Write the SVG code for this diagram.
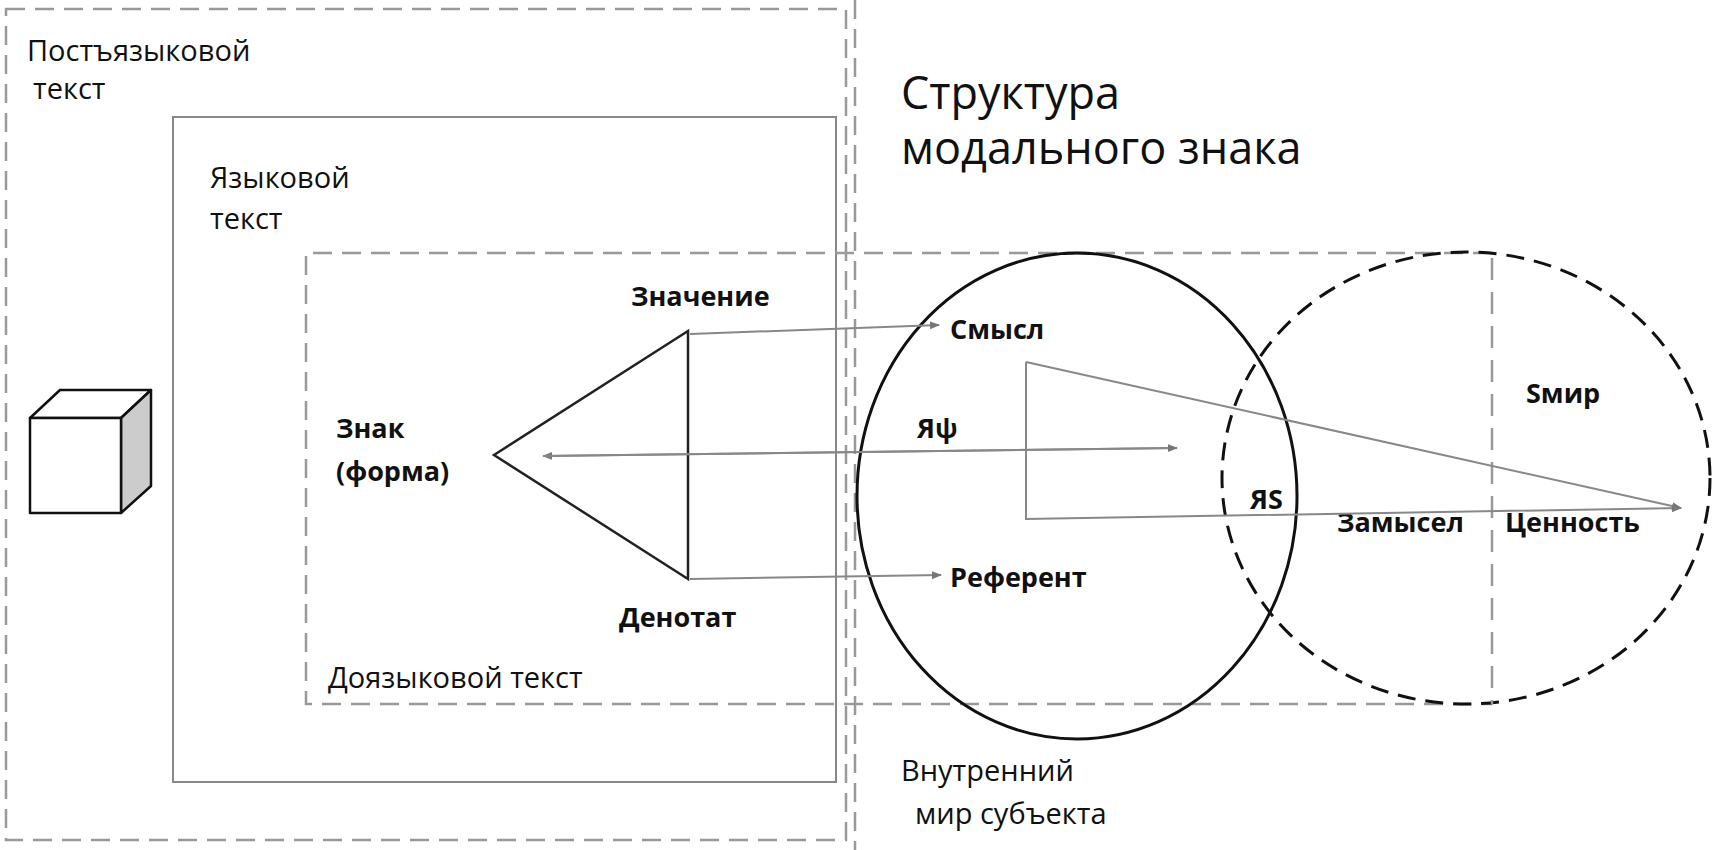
<svg xmlns="http://www.w3.org/2000/svg" width="1712" height="850" viewBox="0 0 1712 850">
<style>
.gd{fill:none;stroke:#999;stroke-width:2.5;stroke-dasharray:19 10}
.t{font-family:"Open Sans","Liberation Sans",sans-serif;fill:#111;font-size:29px}
.b{font-family:"Open Sans","Liberation Sans",sans-serif;fill:#111;font-size:27px;font-weight:bold}
.ttl{font-family:"Open Sans","Liberation Sans",sans-serif;fill:#111;font-size:45px}
.ar{fill:none;stroke:#888;stroke-width:2}
</style>
<defs>
<marker id="ah" markerWidth="10" markerHeight="10" refX="9" refY="5" orient="auto" markerUnits="userSpaceOnUse">
<path d="M0,1 L10,5 L0,9 z" fill="#777"/>
</marker>
</defs>
<rect width="1712" height="850" fill="#fff"/>
<g id="postlang">
<rect class="gd" x="6" y="9" width="840" height="831"/>
<text class="t" x="27" y="61">Постъязыковой</text>
<text class="t" x="33" y="99">текст</text>
</g>
<g id="inner-world">
<line class="gd" x1="855" y1="0" x2="855" y2="850"/>
<text class="t" x="901" y="781">Внутренний</text>
<text class="t" x="915" y="824">мир субъекта</text>
</g>
<g id="lang">
<rect x="173" y="117" width="663" height="665" fill="none" stroke="#888" stroke-width="2"/>
<text class="t" x="210" y="188">Языковой</text>
<text class="t" x="210" y="229">текст</text>
</g>
<g id="prelang">
<path class="gd" d="M1492,253 H306 V704 H1492"/>
<text class="t" x="328" y="688">Доязыковой текст</text>
</g>
<g id="title">
<text class="ttl" x="901" y="109">Структура</text>
<text class="ttl" x="901" y="164">модального знака</text>
</g>
<g id="cube" stroke="#111" stroke-width="2.5" stroke-linejoin="round">
<path d="M30,418 L60,390 L151,390 L121,418 Z" fill="#fff"/>
<path d="M121,418 L151,390 L151,486 L121,513 Z" fill="#ccc"/>
<rect x="30" y="418" width="91" height="95" fill="#fff"/>
</g>
<g id="triangle">
<path d="M494,455 L688,331 L688,579 Z" fill="none" stroke="#222" stroke-width="2.5" stroke-linejoin="miter"/>
<text class="b" x="631" y="306">Значение</text>
<text class="b" x="336" y="438">Знак</text>
<text class="b" x="336" y="481">(форма)</text>
<text class="b" x="619" y="627">Денотат</text>
</g>
<g id="circle-subject">
<ellipse cx="1077" cy="496" rx="220" ry="243" fill="none" stroke="#111" stroke-width="3"/>
<text class="b" x="950" y="339">Смысл</text>
<text class="b" x="917" y="438">Яψ</text>
<text class="b" x="950" y="587">Референт</text>
<text class="b" x="1250" y="509">ЯS</text>
</g>
<g id="circle-world">
<ellipse cx="1466" cy="478" rx="244" ry="226" fill="none" stroke="#111" stroke-width="3" stroke-dasharray="18 10"/>
<line x1="1492" y1="258" x2="1492" y2="704" fill="none" stroke="#999" stroke-width="2.5" stroke-dasharray="22 12"/>
<text class="b" x="1526" y="403">Sмир</text>
<text class="b" x="1337" y="532">Замысел</text>
<text class="b" x="1505" y="532">Ценность</text>
</g>
<g id="connectors">
<path class="ar" d="M690,334 L939,325" marker-end="url(#ah)"/>
<path class="ar" d="M690,579 L941,575" marker-end="url(#ah)"/>
<path class="ar" d="M1177,448 L543,456" marker-end="url(#ah)"/>
<path class="ar" d="M543,456 L1177,448" marker-end="url(#ah)"/>
<path class="ar" d="M1026,362 L1681,508" marker-end="url(#ah)"/>
<path class="ar" d="M1026,362 L1026,519 L1681,508" marker-end="url(#ah)"/>
</g>
</svg>
